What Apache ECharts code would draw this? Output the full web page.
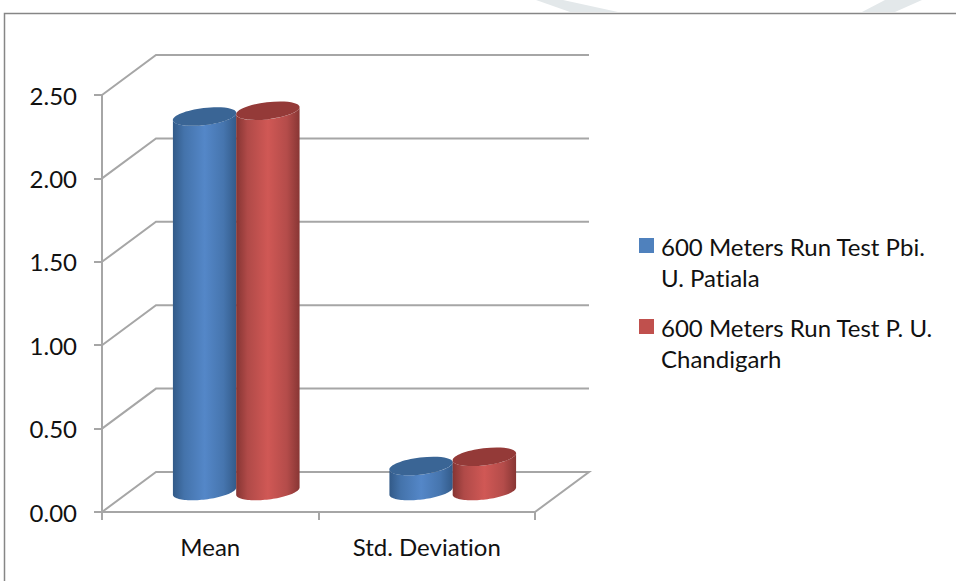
<!DOCTYPE html>
<html>
<head>
<meta charset="utf-8">
<style>html,body{margin:0;padding:0;background:#fff}#c{width:956px;height:581px}
text{font-variant-ligatures:none;font-feature-settings:"liga" 0,"clig" 0}</style>
<script src="https://cdn.jsdelivr.net/npm/echarts@6/dist/echarts.min.js"></script>
</head>
<body>
<div id="c"></div>
<script>
var categories = ['Mean', 'Std. Deviation'];
var patialaValues = [2.245, 0.15];
var chandigarhValues = [2.28, 0.205];
var yTicks = [0, 0.5, 1, 1.5, 2, 2.5];
var patialaName = '600 Meters Run Test Pbi.\nU. Patiala';
var chandigarhName = '600 Meters Run Test P. U.\nChandigarh';

var FONT = 'Lato';
var DX = 54, DY = 40;           // depth of the 3D box
var GRID = '#a6a6a6';
var BODY_W = 0.295;             // cylinder width, share of a category band
var RY = 8.5, TILT = 7;

function wallItem(params, api) {
  var cs = params.coordSys;
  var p = api.coord([0, api.value(1)]);
  var y = p[1], x0 = cs.x, x1 = cs.x + cs.width;
  var pts = [[x0, y], [x0 + DX, y - DY], [x1 + DX, y - DY]];
  if (api.value(1) === 0) pts.push([x1, y]);
  return {
    type: 'polyline',
    shape: { points: pts },
    style: { fill: null, stroke: GRID, lineWidth: 2 },
    silent: true
  };
}

function ellipsePoint(cx, cy, rx, t) {
  var a = TILT * Math.PI / 180;
  return [
    cx + rx * Math.cos(t) * Math.cos(a) + RY * Math.sin(t) * Math.sin(a),
    cy - rx * Math.cos(t) * Math.sin(a) + RY * Math.sin(t) * Math.cos(a)
  ];
}

function cylinder(side, stops, topColor) {
  return function (params, api) {
    var i = api.value(0), v = api.value(1);
    var band = api.size([1, 0])[0];
    var rx = band * BODY_W / 2;
    var c0 = api.coord([i, 0]), c1 = api.coord([i, v]);
    var cx = c0[0] + DX / 2 - 1 + side * (rx - 0.3);
    var yb = c0[1] - DY / 2 - 1, yt = c1[1] - DY / 2 - 1;
    var pts = [], k, N = 48;
    // front edge of the base, left to right
    for (k = 0; k <= N; k++) {
      pts.push(ellipsePoint(cx, yb, rx, Math.PI - Math.PI * k / N));
    }
    // back up the right side and over the top ellipse
    for (k = 0; k <= N; k++) {
      pts.push(ellipsePoint(cx, yt, rx, Math.PI * k / N));
    }
    return {
      type: 'group',
      children: [
        { type: 'polygon', shape: { points: pts },
          style: { fill: { type: 'linear', x: 0, y: 0, x2: 1, y2: 0, colorStops: stops } } },
        { type: 'ellipse', shape: { cx: 0, cy: 0, rx: rx, ry: RY },
          x: cx, y: yt, rotation: TILT * Math.PI / 180,
          style: { fill: topColor } }
      ]
    };
  };
}

var blueStops = [
  { offset: 0, color: '#325a88' }, { offset: 0.18, color: '#4473ab' },
  { offset: 0.5, color: '#5487c8' }, { offset: 0.8, color: '#4675ae' },
  { offset: 1, color: '#335b8a' }];
var redStops = [
  { offset: 0, color: '#863533' }, { offset: 0.18, color: '#b04a48' },
  { offset: 0.5, color: '#d05855' }, { offset: 0.8, color: '#b44c4a' },
  { offset: 1, color: '#883634' }];

function rows(values) { return values.map(function (v, i) { return [i, v]; }); }

var legendIcon = 'path://M0 7H15V22H0ZM0 0H0V0ZM15 62H15V62Z';

var chart = echarts.init(document.getElementById('c'), null, { renderer: 'svg' });
chart.setOption({
  animation: false,
  backgroundColor: '#ffffff',
  textStyle: { fontFamily: FONT },
  grid: { left: 102, width: 433, top: 95, height: 417, containLabel: false },
  graphic: [
    { type: 'polyline', shape: { points: [[4.5, 581], [4.5, 13.5], [956, 13.5]] },
      style: { fill: null, stroke: '#868686', lineWidth: 1.5 }, silent: true },
    { type: 'polygon', shape: { points: [[536, 0], [563, 0], [618, 12], [570, 12]] },
      style: { fill: '#e3e8ea' }, silent: true },
    { type: 'polygon', shape: { points: [[862, 12], [885, 0], [922, 0], [895, 12]] },
      style: { fill: '#e3e8ea' }, silent: true }
  ],
  legend: {
    orient: 'vertical', left: 634, top: 226,
    itemWidth: 15, itemHeight: 62, itemGap: 19,
    symbolKeepAspect: false,
    selectedMode: false,
    data: [
      { name: patialaName, icon: legendIcon, itemStyle: { color: '#4f81bd' } },
      { name: chandigarhName, icon: legendIcon, itemStyle: { color: '#c0504d' } }
    ],
    textStyle: { fontFamily: FONT, fontSize: 24, color: '#111', lineHeight: 31, padding: [0, 0, 0, 2] }
  },
  xAxis: {
    type: 'category', data: categories, boundaryGap: true,
    axisLine: { lineStyle: { color: GRID, width: 2 } },
    axisTick: { show: true, alignWithLabel: false, length: 8, lineStyle: { color: GRID, width: 2 } },
    axisLabel: { fontFamily: FONT, fontSize: 24, color: '#111', margin: 22 }
  },
  yAxis: {
    type: 'value', min: 0, max: 2.5, interval: 0.5,
    axisLine: { show: true, lineStyle: { color: GRID, width: 2 } },
    axisTick: { show: true, length: 8, lineStyle: { color: GRID, width: 2 } },
    splitLine: { show: false },
    axisLabel: { fontFamily: FONT, fontSize: 24, color: '#111', margin: 25,
      formatter: function (v) { return v.toFixed(2); } }
  },
  series: [
    { type: 'custom', name: 'walls', silent: true, z: 1,
      data: yTicks.map(function (v) { return [0, v]; }),
      encode: { x: 0, y: 1 }, renderItem: wallItem },
    { type: 'custom', name: patialaName, z: 3, silent: true,
      itemStyle: { color: '#4f81bd' },
      data: rows(patialaValues), encode: { x: 0, y: 1 },
      renderItem: cylinder(-1, blueStops, '#3a6595') },
    { type: 'custom', name: chandigarhName, z: 4, silent: true,
      itemStyle: { color: '#c0504d' },
      data: rows(chandigarhValues), encode: { x: 0, y: 1 },
      renderItem: cylinder(1, redStops, '#943a38') }
  ]
});
</script>
</body>
</html>
